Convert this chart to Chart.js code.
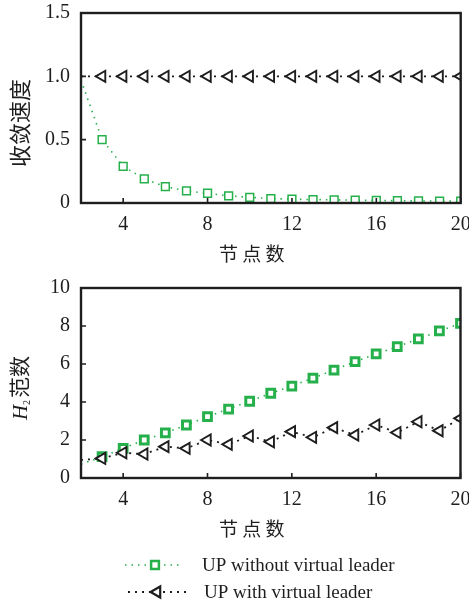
<!DOCTYPE html>
<html>
<head>
<meta charset="utf-8">
<script src="https://cdn.jsdelivr.net/npm/chart.js@4.4.1/dist/chart.umd.min.js"></script>
<style>
html, body { margin: 0; padding: 0; background: #fff; }
canvas { position: absolute; left: 0; }
#c1 { top: 0; }
#c2 { top: 272px; }
</style>
</head>
<body>
<canvas id="c1" width="469" height="272"></canvas>
<canvas id="c2" width="469" height="335"></canvas>
<script>
// Data
const nodes = [2, 3, 4, 5, 6, 7, 8, 9, 10, 11, 12, 13, 14, 15, 16, 17, 18, 19, 20];
const speedNoLeader = [0.97, 0.50, 0.29, 0.19, 0.13, 0.095, 0.077, 0.056, 0.045, 0.035, 0.03, 0.027, 0.025, 0.022, 0.02, 0.018, 0.016, 0.015, 0.014];
const speedLeader = [1, 1, 1, 1, 1, 1, 1, 1, 1, 1, 1, 1, 1, 1, 1, 1, 1, 1, 1];
const h2NoLeader = [0.72, 1.12, 1.56, 2.0, 2.38, 2.79, 3.23, 3.63, 4.04, 4.46, 4.84, 5.26, 5.68, 6.12, 6.53, 6.91, 7.32, 7.74, 8.14];
const h2Leader = [0.95, 1.03, 1.33, 1.26, 1.65, 1.56, 2.0, 1.77, 2.21, 1.91, 2.44, 2.14, 2.65, 2.26, 2.79, 2.39, 2.96, 2.49, 3.14];
const xTicks = [4, 8, 12, 16, 20];
const speedTicks = [0, 0.5, 1.0, 1.5];
const speedTickLabels = ['0', '0.5', '1.0', '1.5'];
const h2Ticks = [0, 2, 4, 6, 8, 10];
const seriesNames = ['UP without virtual leader', 'UP with virtual leader'];

const GREEN = '#26b04b';
const BLACK = '#1e1e1e';
const SERIF = '"Liberation Serif", "Times New Roman", serif';
const CJK = '"Noto Sans CJK SC", sans-serif';

const pts = vals => nodes.map((n, i) => ({ x: n, y: vals[i] }));
const radii = r => nodes.map((n, i) => (i === 0 ? 0 : r));

function greenSet(vals, bw) {
    return {
        label: seriesNames[0], data: pts(vals), order: 1,
        borderColor: GREEN, borderWidth: 1.6, borderDash: [1.5, 5],
        pointStyle: 'rect', pointRadius: radii(5.5), pointBorderWidth: bw,
        pointBorderColor: GREEN, pointBackgroundColor: '#fff', tension: 0
    };
}
function blackSet(vals) {
    return {
        label: seriesNames[1], data: pts(vals), order: 0,
        borderColor: BLACK, borderWidth: 1.8, borderDash: [2, 5],
        pointStyle: 'triangle', rotation: -90, pointRadius: radii(6.4), pointBorderWidth: 1.9,
        pointBorderColor: BLACK, pointBackgroundColor: '#fff', tension: 0
    };
}

// frame box + inward tick marks
const frame = {
    id: 'frame',
    afterDatasetsDraw(chart) {
        const { ctx, chartArea: a, scales: { x, y } } = chart;
        ctx.save();
        ctx.strokeStyle = BLACK;
        ctx.lineWidth = 1.6;
        ctx.beginPath();
        x.ticks.forEach(t => {
            const px = x.getPixelForValue(t.value);
            ctx.moveTo(px, a.bottom); ctx.lineTo(px, a.bottom - 5);
        });
        y.ticks.forEach(t => {
            const py = y.getPixelForValue(t.value);
            ctx.moveTo(a.left, py); ctx.lineTo(a.left + 5, py);
        });
        ctx.stroke();
        ctx.lineWidth = 2.4;
        ctx.strokeRect(a.left, a.top, a.right - a.left, a.bottom - a.top);
        ctx.restore();
    }
};

// rotated y title made of mixed-font parts
const ytitle = {
    id: 'ytitle',
    afterDraw(chart, args, opts) {
        const { ctx, chartArea: a } = chart;
        ctx.save();
        ctx.translate(opts.x, (a.top + a.bottom) / 2 + opts.shift);
        ctx.rotate(-Math.PI / 2);
        ctx.fillStyle = BLACK;
        ctx.textBaseline = 'alphabetic';
        let total = 0;
        opts.parts.forEach(p => { ctx.font = p.font; total += ctx.measureText(p.text).width + (p.gap || 0); });
        let u = -total / 2;
        opts.parts.forEach(p => {
            ctx.font = p.font;
            ctx.fillText(p.text, u, 7 + (p.dy || 0));
            u += ctx.measureText(p.text).width + (p.gap || 0);
        });
        ctx.restore();
    }
};

// legend with dotted line and marker, below the lower chart
const lineLegend = {
    id: 'lineLegend',
    afterDraw(chart, args, opts) {
        const { ctx } = chart;
        chart.data.datasets.forEach((ds, i) => {
            const row = opts.rows[i];
            ctx.save();
            ctx.strokeStyle = ds.borderColor;
            ctx.lineWidth = ds.borderWidth;
            ctx.setLineDash(ds.borderDash);
            ctx.beginPath();
            ctx.moveTo(row.x0, row.y); ctx.lineTo(row.x1, row.y);
            ctx.stroke();
            ctx.setLineDash([]);
            ctx.fillStyle = '#fff';
            ctx.strokeStyle = ds.pointBorderColor;
            ctx.lineWidth = row.bw;
            Chart.helpers.drawPoint(ctx, {
                pointStyle: ds.pointStyle, radius: row.r, rotation: ds.rotation || 0,
                borderWidth: row.bw
            }, row.mx, row.y);
            ctx.fillStyle = BLACK;
            ctx.font = '19px ' + SERIF;
            ctx.textBaseline = 'middle';
            ctx.fillText(ds.label, row.tx, row.y + 1);
            ctx.restore();
        });
    }
};

function xScale() {
    return {
        type: 'linear', min: 2, max: 20,
        afterBuildTicks: s => { s.ticks = xTicks.map(v => ({ value: v })); },
        afterFit: s => { s.height = 69; s.paddingLeft = 0; s.paddingRight = 0; },
        grid: { display: false, drawTicks: false },
        border: { display: false },
        ticks: { color: BLACK, padding: 10, font: { family: SERIF, size: 20 } },
        title: {
            display: true, text: '节 点 数\u3000\u3000', color: BLACK,
            font: { family: CJK, size: 19 }, padding: { top: 0, bottom: 7 }
        }
    };
}
function yScale(min, max, ticks, labels) {
    return {
        type: 'linear', min: min, max: max,
        afterBuildTicks: s => { s.ticks = ticks.map(v => ({ value: v })); },
        afterFit: s => { s.width = 81; s.paddingTop = 0; s.paddingBottom = 0; },
        grid: { display: false, drawTicks: false },
        border: { display: false },
        ticks: {
            color: BLACK, padding: 11, font: { family: SERIF, size: 20 },
            callback: v => labels[ticks.indexOf(v)]
        }
    };
}

new Chart(document.getElementById('c1'), {
    type: 'line',
    data: { datasets: [greenSet(speedNoLeader, 1.5), blackSet(speedLeader)] },
    options: {
        responsive: false, animation: false,
        layout: { padding: { left: 0, right: 6, top: 13, bottom: 0 } },
        plugins: {
            legend: { display: false }, tooltip: { enabled: false },
            ytitle: { x: 21, shift: 15, parts: [{ text: '收敛速度', font: '22px ' + CJK }] }
        },
        scales: { x: xScale(), y: yScale(0, 1.5, speedTicks, speedTickLabels) }
    },
    plugins: [frame, ytitle]
});

new Chart(document.getElementById('c2'), {
    type: 'line',
    data: { datasets: [greenSet(h2NoLeader, 3), blackSet(h2Leader)] },
    options: {
        responsive: false, animation: false,
        layout: { padding: { left: 0, right: 6, top: 16, bottom: 60 } },
        plugins: {
            legend: { display: false }, tooltip: { enabled: false },
            ytitle: {
                x: 20, shift: 5, parts: [
                    { text: 'H', font: 'italic 21px ' + SERIF },
                    { text: '2', font: '10px ' + SERIF, dy: 3, gap: 2 },
                    { text: '范数', font: '21px ' + CJK }
                ]
            },
            lineLegend: {
                rows: [
                    { x0: 125, x1: 180, mx: 155, y: 293, tx: 202, r: 5.5, bw: 2.5 },
                    { x0: 128, x1: 190, mx: 157, y: 320, tx: 204, r: 6.4, bw: 2.2 }
                ]
            }
        },
        scales: { x: xScale(), y: yScale(0, 10, h2Ticks, h2Ticks.map(String)) }
    },
    plugins: [frame, ytitle, lineLegend]
});
</script>
</body>
</html>
